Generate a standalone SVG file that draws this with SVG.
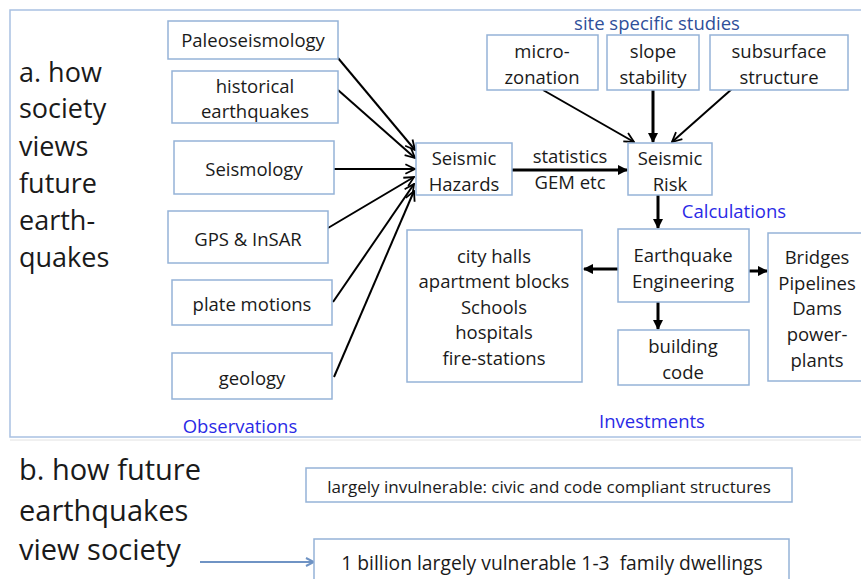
<svg xmlns="http://www.w3.org/2000/svg" width="861" height="579" viewBox="0 0 861 579">
<style>
.box{fill:#fff;stroke:#95b3d7;stroke-width:1.5}
.t{font-family:"Open Sans","Liberation Sans",sans-serif;font-size:18.5px;fill:#1a1a1a;text-anchor:middle}
.big{font-family:"Open Sans","Liberation Sans",sans-serif;font-size:27px;fill:#1a1a1a}
.bigb{font-family:"Open Sans","Liberation Sans",sans-serif;font-size:29px;fill:#1a1a1a}
.blue{font-family:"Open Sans","Liberation Sans",sans-serif;font-size:18.5px;fill:#2a2ae6;text-anchor:middle}
.navy{font-family:"Open Sans","Liberation Sans",sans-serif;font-size:18.5px;fill:#2f4f9a;text-anchor:middle}
.a1{stroke:#000;stroke-width:2;fill:none;marker-end:url(#open)}
.a2{stroke:#000;stroke-width:3;fill:none;marker-end:url(#solid)}
</style>
<defs>
<marker id="open" viewBox="0 0 10 10" refX="9" refY="5" markerWidth="6" markerHeight="6" orient="auto" markerUnits="strokeWidth">
<path d="M1,1 L9,5 L1,9" fill="none" stroke="#000" stroke-width="1.5"/>
</marker>
<marker id="solid" viewBox="0 0 10 10" refX="9" refY="5" markerWidth="3.5" markerHeight="3.5" orient="auto" markerUnits="strokeWidth">
<path d="M0,0 L10,5 L0,10 Z" fill="#000"/>
</marker>
<marker id="blueArr" viewBox="0 0 10 10" refX="9" refY="5" markerWidth="5" markerHeight="5" orient="auto" markerUnits="strokeWidth">
<path d="M1,1 L9,5 L1,9" fill="none" stroke="#6f93c4" stroke-width="2"/>
</marker>
</defs>
<rect width="861" height="579" fill="#fff"/>
<rect x="10" y="10" width="870" height="427" fill="none" stroke="#a9c1e2" stroke-width="1.5"/>
<line x1="10" y1="440" x2="861" y2="440" stroke="#e2e2e2" stroke-width="1"/>

<g id="label-a">
<text class="big" x="19" y="82">a. how</text>
<text class="big" x="19" y="118">society</text>
<text class="big" x="19" y="156">views</text>
<text class="big" x="19" y="193">future</text>
<text class="big" x="19" y="230">earth-</text>
<text class="big" x="19" y="267">quakes</text>
</g>

<g id="connectors">
<line class="a1" x1="338" y1="58" x2="415" y2="150"/>
<line class="a1" x1="338" y1="90" x2="415" y2="158"/>
<line class="a1" x1="334" y1="169" x2="415" y2="169"/>
<line class="a1" x1="328" y1="228" x2="414" y2="177"/>
<line class="a1" x1="333" y1="302" x2="414" y2="184"/>
<line class="a1" x1="334" y1="377" x2="414" y2="191"/>
<line class="a2" x1="512" y1="170" x2="627" y2="170"/>
<line class="a1" x1="543" y1="90" x2="634" y2="142"/>
<line class="a2" x1="653" y1="90" x2="653" y2="142"/>
<line class="a1" x1="733" y1="88" x2="672" y2="142"/>
<line class="a2" x1="658" y1="195" x2="658" y2="228"/>
<line class="a2" x1="618" y1="269" x2="584" y2="269"/>
<line class="a2" x1="749" y1="271" x2="767" y2="271"/>
<line class="a2" x1="658" y1="302" x2="658" y2="329"/>
<line x1="200" y1="562" x2="314" y2="562" stroke="#6f93c4" stroke-width="2" marker-end="url(#blueArr)"/>
</g>

<g id="paleo"><rect class="box" x="168" y="21" width="170" height="38"/><text class="t" x="253" y="47">Paleoseismology</text></g>
<g id="historical"><rect class="box" x="172" y="71" width="166" height="52"/><text class="t" x="255" y="93">historical</text><text class="t" x="255" y="118">earthquakes</text></g>
<g id="seismology"><rect class="box" x="174" y="141" width="160" height="53"/><text class="t" x="254" y="176">Seismology</text></g>
<g id="gps"><rect class="box" x="168" y="211" width="160" height="52"/><text class="t" x="248" y="246">GPS &amp; InSAR</text></g>
<g id="plate"><rect class="box" x="172" y="280" width="160" height="45"/><text class="t" x="252" y="311">plate motions</text></g>
<g id="geology"><rect class="box" x="172" y="353" width="160" height="46"/><text class="t" x="252" y="385">geology</text></g>

<g id="hazards"><rect class="box" x="416" y="143" width="96" height="52"/><text class="t" x="464" y="165">Seismic</text><text class="t" x="464" y="191">Hazards</text></g>
<g id="stats"><text class="t" x="570" y="163">statistics</text><text class="t" x="570" y="189">GEM etc</text></g>
<g id="risk"><rect class="box" x="628" y="143" width="84" height="52"/><text class="t" x="670" y="165">Seismic</text><text class="t" x="670" y="191">Risk</text></g>

<g id="site"><text class="navy" x="657" y="30">site specific studies</text></g>
<g id="micro"><rect class="box" x="487" y="35" width="111" height="55"/><text class="t" x="542" y="58">micro-</text><text class="t" x="542" y="84">zonation</text></g>
<g id="slope"><rect class="box" x="607" y="35" width="92" height="55"/><text class="t" x="653" y="58">slope</text><text class="t" x="653" y="84">stability</text></g>
<g id="subsurface"><rect class="box" x="710" y="35" width="138" height="55"/><text class="t" x="779" y="58">subsurface</text><text class="t" x="779" y="84">structure</text></g>

<g id="calc"><text class="blue" x="734" y="218">Calculations</text></g>

<g id="eqeng"><rect class="box" x="618" y="229" width="131" height="73"/><text class="t" x="683" y="262">Earthquake</text><text class="t" x="683" y="288">Engineering</text></g>
<g id="civic"><rect class="box" x="407" y="230" width="175" height="152"/>
<text class="t" x="494" y="263">city halls</text><text class="t" x="494" y="288">apartment blocks</text><text class="t" x="494" y="314">Schools</text><text class="t" x="494" y="339">hospitals</text><text class="t" x="494" y="365">fire-stations</text></g>
<g id="code"><rect class="box" x="618" y="330" width="131" height="55"/><text class="t" x="683" y="353">building</text><text class="t" x="683" y="379">code</text></g>
<g id="infra"><rect class="box" x="768" y="233" width="110" height="148"/>
<text class="t" x="817" y="264">Bridges</text><text class="t" x="817" y="290">Pipelines</text><text class="t" x="817" y="315">Dams</text><text class="t" x="817" y="341">power-</text><text class="t" x="817" y="367">plants</text></g>

<g id="invest"><text class="blue" x="652" y="428">Investments</text></g>
<g id="obs"><text class="blue" x="240" y="433">Observations</text></g>

<g id="label-b">
<text class="bigb" x="19" y="480">b. how future</text>
<text class="bigb" x="19" y="521">earthquakes</text>
<text class="bigb" x="19" y="560">view society</text>
</g>
<g id="invuln"><rect class="box" x="306" y="468" width="486" height="34"/><text class="t" x="549" y="493" style="font-size:17px">largely invulnerable: civic and code compliant structures</text></g>
<g id="vuln"><rect class="box" x="314" y="539" width="475" height="50"/><text class="t" x="552" y="570" style="font-size:19.3px">1 billion largely vulnerable 1-3&#160; family dwellings</text></g>
</svg>
